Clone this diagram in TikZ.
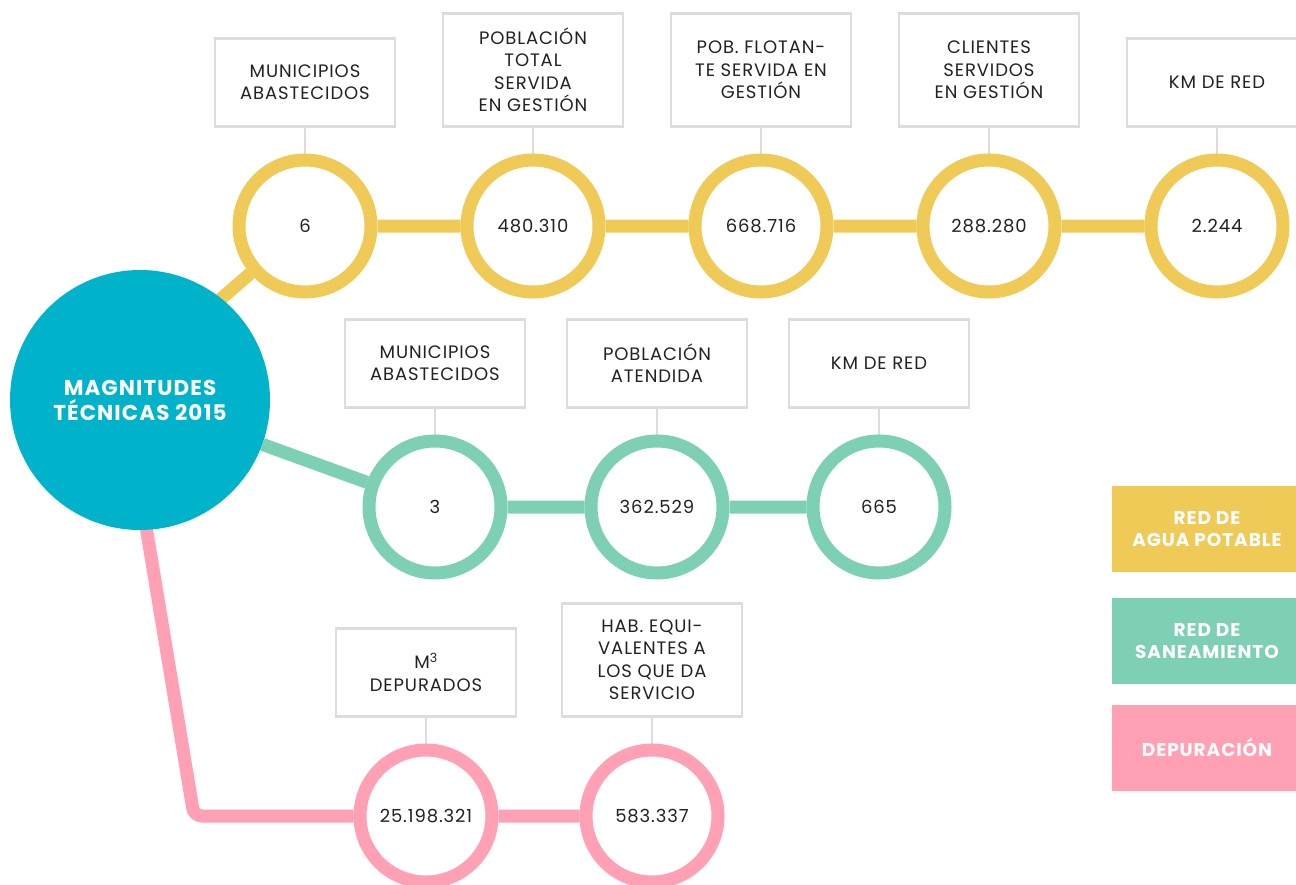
\documentclass[tikz,border=0pt]{standalone}
\usepackage{fontspec}
\setmainfont{Poppins}[LetterSpace=5]
\usetikzlibrary{positioning,backgrounds}
\definecolor{agua}{HTML}{F0CA56}
\definecolor{saneo}{HTML}{7ED0B4}
\definecolor{depur}{HTML}{FFA0B4}
\definecolor{hubcol}{HTML}{00B3CA}
\definecolor{lineagris}{HTML}{DCDCDC}
\definecolor{texto}{HTML}{222222}
\begin{document}
\begin{tikzpicture}[x=1pt,y=-1pt,
  dato/.style={circle,draw=#1,line width=13pt,fill=white,minimum size=132pt,inner sep=0pt,text=texto,font=\fontsize{18}{20}\selectfont},
  rotulo/.style={rectangle,draw=lineagris,line width=2.5pt,fill=white,minimum width=180pt,minimum height=88pt,align=center,text=texto,font=\fontsize{18}{22.5}\selectfont},
  alto/.style={minimum height=113pt},
  leyenda/.style={rectangle,fill=#1,minimum width=190pt,minimum height=86pt,align=center,text=white,font=\bfseries\fontsize{18.5}{22}\selectfont},
  enlace/.style={draw=#1,line width=13pt},
  guia/.style={draw=lineagris,line width=2.5pt}]
\useasboundingbox (0,0) rectangle (1296,884);

% nodo central
\node [circle,fill=hubcol,minimum size=260pt,align=center,text=white,font=\bfseries\fontsize{21.5}{25}\selectfont] (hub) at (140,400) {MAGNITUDES\\TÉCNICAS 2015};
\coordinate (hy) at (140,369);
\coordinate (pa) at (140,490);
\coordinate (pc) at (194,816);

% red de agua potable
\node [dato=agua] (y1) at (305,226) {6};
\node [dato=agua] (y2) at (533,226) {480.310};
\node [dato=agua] (y3) at (761,226) {668.716};
\node [dato=agua] (y4) at (989,226) {288.280};
\node [dato=agua] (y5) at (1217,226) {2.244};
\node [rotulo,above=26pt of y1] (ry1) {MUNICIPIOS\\ABASTECIDOS};
\node [rotulo,alto,above=26pt of y2] (ry2) {POBLACIÓN\\TOTAL\\SERVIDA\\EN GESTIÓN};
\node [rotulo,alto,above=26pt of y3] (ry3) {POB. FLOTAN-\\TE SERVIDA EN\\GESTIÓN};
\node [rotulo,alto,above=26pt of y4] (ry4) {CLIENTES\\SERVIDOS\\EN GESTIÓN};
\node [rotulo,above=26pt of y5] (ry5) {KM DE RED};

% red de saneamiento
\node [dato=saneo] (g1) at (435,507) {3};
\node [dato=saneo] (g2) at (657,507) {362.529};
\node [dato=saneo] (g3) at (879,507) {665};
\node [rotulo,above=26pt of g1] (rg1) {MUNICIPIOS\\ABASTECIDOS};
\node [rotulo,above=26pt of g2] (rg2) {POBLACIÓN\\ATENDIDA};
\node [rotulo,above=26pt of g3] (rg3) {KM DE RED};

% depuracion
\node [dato=depur] (p1) at (426,816) {25.198.321};
\node [dato=depur] (p2) at (652,816) {583.337};
\node [rotulo,above=26pt of p1] (rp1) {M\textsuperscript{3}\\DEPURADOS};
\node [rotulo,alto,above=26pt of p2] (rp2) {HAB. EQUI-\\VALENTES A\\LOS QUE DA\\SERVICIO};

% leyenda
\node [leyenda=agua] (lag) at (1207,529) {RED DE\\AGUA POTABLE};
\node [leyenda=saneo] (lsa) at (1207,641) {RED DE\\SANEAMIENTO};
\node [leyenda=depur] (lde) at (1207,748) {DEPURACIÓN};

\begin{scope}[on background layer]
\draw [enlace=agua] (hy) -- (y1) -- (y2) -- (y3) -- (y4) -- (y5);
\draw [enlace=saneo] (hub) -- (g1) -- (g2) -- (g3);
\draw [enlace=depur,rounded corners=8pt] (pa) -- (pc) -- (p1) -- (p2);
\foreach \n in {y1,y2,y3,y4,y5,g1,g2,g3,p1,p2}
  \draw [guia] (r\n) -- (\n);
\end{scope}
\end{tikzpicture}
\end{document}
